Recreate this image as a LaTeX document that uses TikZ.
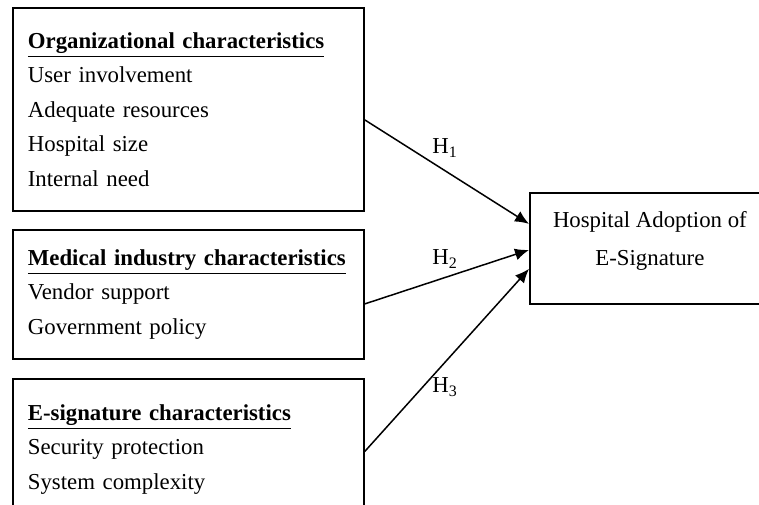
\documentclass[tikz,border=0pt]{standalone}
\usepackage{fontspec}
\setmainfont{Liberation Serif}
\usepackage{tikz}
\usetikzlibrary{calc,arrows.meta}
\tikzset{
  factor/.style={draw,line width=0.9pt,anchor=north west,minimum width=175.5pt,text width=160.5pt,
    inner xsep=7.5pt,align=left,font=\fontsize{11.4}{17.25}\selectfont},
  hyp/.style={-{Latex[length=7pt,width=6pt]},line width=0.75pt},
  hlabel/.style={font=\fontsize{11.4}{13}\selectfont,inner sep=0pt}
}
\begin{document}
\begin{tikzpicture}[x=0.5pt,y=-0.5pt]
  \useasboundingbox (0,0) rectangle (759,504);
  \node[factor,minimum height=101.5pt](org)at(12,7){\underline{\textbf{Organizational characteristics}}\\User involvement\\Adequate resources\\Hospital size\\Internal need};
  \node[factor,minimum height=64.5pt](med)at(12,229){\underline{\textbf{Medical industry characteristics}}\\Vendor support\\Government policy};
  \node[factor,minimum height=70.5pt](esig)at(12,378){\underline{\textbf{E-signature characteristics}}\\Security protection\\System complexity};
  \node[draw,line width=0.9pt,anchor=north west,inner sep=0pt,font=\fontsize{11.4}{18.75}\selectfont](adopt)at(529,192)
    {\parbox[c][55.5pt][t]{120pt}{\centering\vspace*{9.5pt}Hospital Adoption of\\E-Signature}};
  \draw[hyp] ($(org.east)+(0,10.5)$) -- ($(adopt.west)+(0,-24.5)$);
  \draw[hyp] ($(med.east)+(0,9.5)$) -- ($(adopt.west)+(0,1.5)$);
  \draw[hyp] ($(esig.east)+(0,2)$) -- ($(adopt.west)+(0,20.5)$);
  \node[hlabel](h1)at(445,148){H\textsubscript{1}};
  \node[hlabel](h2)at(445,259){H\textsubscript{2}};
  \node[hlabel](h3)at(445,387){H\textsubscript{3}};
\end{tikzpicture}
\end{document}
